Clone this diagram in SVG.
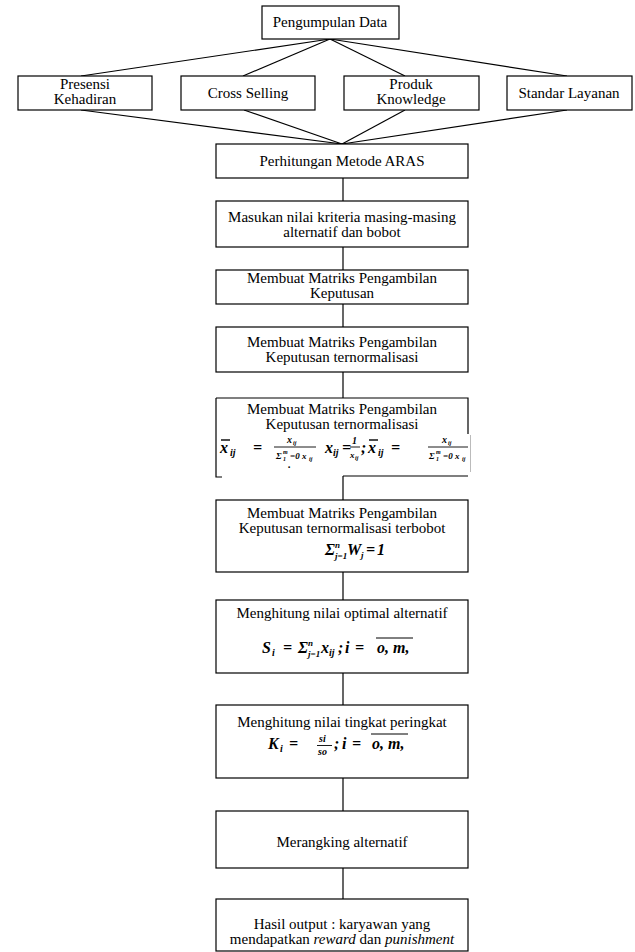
<svg xmlns="http://www.w3.org/2000/svg" width="635" height="952" viewBox="0 0 635 952">
<style>
.b{fill:#fff;stroke:#000;stroke-width:1.2}
.c{stroke:#000;stroke-width:1.2;fill:none}
.t{font-family:"Liberation Serif","Times New Roman",serif;font-size:15px;text-anchor:middle;fill:#000}
.m{font-family:"Liberation Serif","Times New Roman",serif;font-weight:bold;font-style:italic;font-size:16px;fill:#000}
.s{font-size:9px}
.f{font-size:10px}
.u{font-size:6px}
</style>
<rect width="635" height="952" fill="#fff"/>
<g id="connectors">
<line class="c" x1="330" y1="39" x2="81" y2="76"/>
<line class="c" x1="330" y1="39" x2="243" y2="76"/>
<line class="c" x1="330" y1="39" x2="405" y2="76"/>
<line class="c" x1="330" y1="39" x2="567" y2="76"/>
<line class="c" x1="81" y1="110" x2="342" y2="144"/>
<line class="c" x1="244" y1="110" x2="342" y2="144"/>
<line class="c" x1="405" y1="110" x2="342" y2="144"/>
<line class="c" x1="567" y1="110" x2="342" y2="144"/>
<line class="c" x1="343" y1="178" x2="343" y2="201"/>
<line class="c" x1="343" y1="247" x2="343" y2="270"/>
<line class="c" x1="343" y1="304" x2="343" y2="327"/>
<line class="c" x1="343" y1="372" x2="343" y2="398"/>
<line class="c" x1="343" y1="476" x2="343" y2="500"/>
<line class="c" x1="343" y1="572" x2="343" y2="600"/>
<line class="c" x1="343" y1="673" x2="343" y2="705"/>
<line class="c" x1="343" y1="778" x2="343" y2="811"/>
<line class="c" x1="343" y1="868" x2="343" y2="899"/>
</g>
<g id="pengumpulan">
<rect class="b" x="262" y="6" width="137" height="33"/>
<text class="t" x="330" y="27">Pengumpulan Data</text>
</g>
<g id="presensi">
<rect class="b" x="18" y="76" width="134" height="34"/>
<text class="t" x="85" y="89">Presensi</text>
<text class="t" x="85" y="104">Kehadiran</text>
</g>
<g id="cross">
<rect class="b" x="181" y="76" width="134" height="34"/>
<text class="t" x="248" y="98">Cross Selling</text>
</g>
<g id="produk">
<rect class="b" x="344" y="76" width="135" height="34"/>
<text class="t" x="411" y="89">Produk</text>
<text class="t" x="411" y="104">Knowledge</text>
</g>
<g id="standar">
<rect class="b" x="507" y="76" width="125" height="34"/>
<text class="t" x="569" y="98">Standar Layanan</text>
</g>
<g id="perhitungan">
<rect class="b" x="216" y="144" width="252" height="34"/>
<text class="t" x="342" y="166">Perhitungan Metode ARAS</text>
</g>
<g id="masukan">
<rect class="b" x="216" y="201" width="252" height="46"/>
<text class="t" x="342" y="222">Masukan nilai kriteria masing-masing</text>
<text class="t" x="342" y="237">alternatif dan bobot</text>
</g>
<g id="matriks">
<rect class="b" x="216" y="270" width="252" height="34"/>
<text class="t" x="342" y="283">Membuat Matriks Pengambilan</text>
<text class="t" x="342" y="298">Keputusan</text>
</g>
<g id="ternormalisasi">
<rect class="b" x="216" y="327" width="252" height="45"/>
<text class="t" x="342" y="347">Membuat Matriks Pengambilan</text>
<text class="t" x="342" y="362">Keputusan ternormalisasi</text>
</g>
<g id="ternormalisasi-rumus">
<path class="c" d="M216,398 H468 V434 M216,398 V477 H222 M343,476 H468"/>
<line x1="470.5" y1="435" x2="470.5" y2="472" stroke="#bbb" stroke-width="1"/>
<text class="t" x="342" y="414">Membuat Matriks Pengambilan</text>
<text class="t" x="342" y="429">Keputusan ternormalisasi</text>
<line x1="221" y1="440" x2="230" y2="440" stroke="#000" stroke-width="1.4"/>
<text class="m" x="220" y="453" font-size="17">x</text><text class="m f" x="230" y="456">ij</text>
<text class="m" x="253" y="453">=</text>
<text class="m f" x="287" y="443">x</text><text class="m u" x="293" y="445">ij</text>
<line x1="274" y1="447" x2="316" y2="447" stroke="#000" stroke-width="0.9"/>
<text class="m s" x="276" y="459">Σ</text><text class="m u" x="283" y="454">m</text><text class="m u" x="283" y="461">1</text><text class="m s" x="290" y="459">=0 x</text><text class="m u" x="309" y="461">ij</text>
<text class="m" x="325" y="453">x</text><text class="m f" x="333" y="456">ij</text>
<text class="m" x="342" y="453">=</text>
<text class="m f" x="352" y="444">1</text>
<line x1="350" y1="447" x2="360" y2="447" stroke="#000" stroke-width="0.9"/>
<text class="m s" x="350" y="458">x</text><text class="m u" x="355" y="460">ij</text>
<text class="m" x="361" y="453">;</text>
<line x1="369" y1="440" x2="378" y2="440" stroke="#000" stroke-width="1.4"/>
<text class="m" x="368" y="453" font-size="17">x</text><text class="m f" x="378" y="456">ij</text>
<text class="m" x="391" y="453">=</text>
<text class="m f" x="442" y="443">x</text><text class="m u" x="448" y="445">ij</text>
<line x1="428" y1="447" x2="468" y2="447" stroke="#000" stroke-width="0.9"/>
<text class="m s" x="429" y="459">Σ</text><text class="m u" x="436" y="454">m</text><text class="m u" x="436" y="461">1</text><text class="m s" x="443" y="459">=0 x</text><text class="m u" x="462" y="461">ij</text>
<text class="t" x="289" y="468" font-size="12">.</text>
</g>
<g id="terbobot">
<rect class="b" x="216" y="500" width="252" height="72"/>
<text class="t" x="342" y="518">Membuat Matriks Pengambilan</text>
<text class="t" x="342" y="533">Keputusan ternormalisasi terbobot</text>
<text class="m" x="325" y="555" font-size="14">Σ</text>
<text class="m s" x="335" y="548">n</text>
<text class="m s" x="335" y="559">j=1</text>
<text class="m" x="347" y="555" font-size="15">W</text>
<text class="m s" x="361" y="558">j</text>
<text class="m" x="366" y="555" font-size="15">=</text>
<text class="m" x="377" y="555" font-size="15">1</text>
</g>
<g id="optimal">
<rect class="b" x="216" y="600" width="252" height="73"/>
<text class="t" x="342" y="618">Menghitung nilai optimal alternatif</text>
<text class="m" x="262" y="653">S</text>
<text class="m f" x="272" y="656">i</text>
<text class="m" x="283" y="653">=</text>
<text class="m" x="298" y="653" font-size="15">Σ</text>
<text class="m s" x="308" y="646">n</text>
<text class="m s" x="308" y="657">j=1</text>
<text class="m" x="321" y="653">x</text>
<text class="m f" x="329" y="656">ij</text>
<text class="m" x="338" y="653">;</text>
<text class="m" x="345" y="653">i</text>
<text class="m" x="355" y="653">=</text>
<line x1="376" y1="638" x2="413" y2="638" stroke="#000" stroke-width="1"/>
<text class="m" x="377" y="653">o, m,</text>
</g>
<g id="peringkat">
<rect class="b" x="216" y="705" width="252" height="73"/>
<text class="t" x="342" y="727">Menghitung nilai tingkat peringkat</text>
<text class="m" x="268" y="749">K</text>
<text class="m f" x="280" y="752">i</text>
<text class="m" x="289" y="749">=</text>
<text class="m f" x="319" y="742">si</text>
<line x1="317" y1="745.5" x2="332" y2="745.5" stroke="#000" stroke-width="0.9"/>
<text class="m f" x="318" y="755">so</text>
<text class="m" x="334" y="749">;</text>
<text class="m" x="342" y="749">i</text>
<text class="m" x="352" y="749">=</text>
<line x1="371" y1="734" x2="408" y2="734" stroke="#000" stroke-width="1"/>
<text class="m" x="372" y="749">o, m,</text>
</g>
<g id="merangking">
<rect class="b" x="216" y="811" width="252" height="57"/>
<text class="t" x="342" y="847">Merangking alternatif</text>
</g>
<g id="hasil">
<rect class="b" x="216" y="899" width="252" height="52"/>
<text class="t" x="342" y="929">Hasil output : karyawan yang</text>
<text class="t" x="342" y="944">mendapatkan <tspan font-style="italic">reward</tspan> dan <tspan font-style="italic">punishment</tspan></text>
</g>
</svg>
